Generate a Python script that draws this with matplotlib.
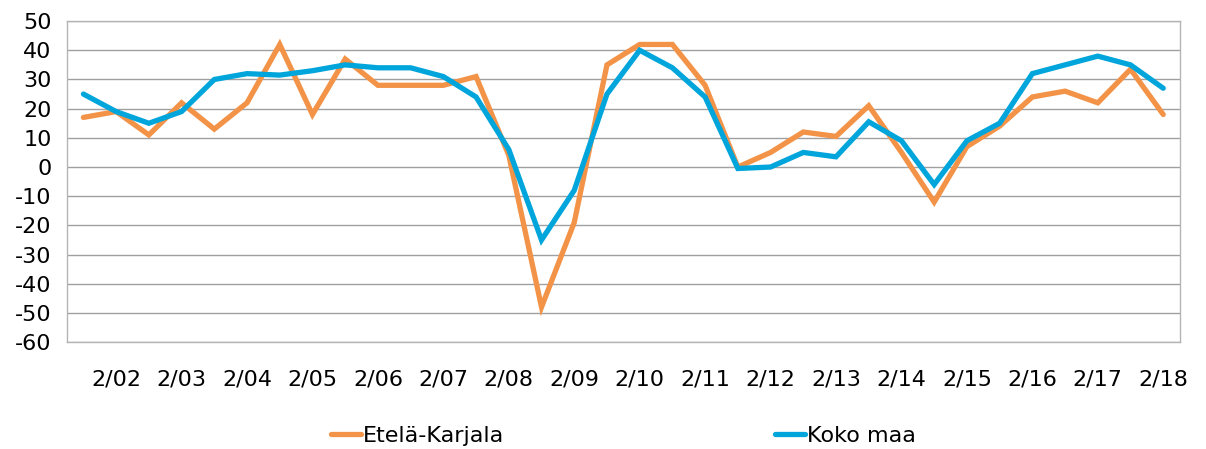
import matplotlib.pyplot as plt

# Survey periods (twice a year), labels shown only for the February ones
periods = ['8/01', '2/02', '8/02', '2/03', '8/03', '2/04', '8/04', '2/05', '8/05',
           '2/06', '8/06', '2/07', '8/07', '2/08', '8/08', '2/09', '8/09', '2/10',
           '8/10', '2/11', '8/11', '2/12', '8/12', '2/13', '8/13', '2/14', '8/14',
           '2/15', '8/15', '2/16', '8/16', '2/17', '8/17', '2/18']

etela_karjala = [17, 19, 11, 22, 13, 22, 42, 18, 37, 28, 28, 28, 31, 4, -48, -19,
                 35, 42, 42, 28, 0, 5, 12, 10.5, 21, 5, -12, 7, 14, 24, 26, 22, 33.5, 18]
koko_maa = [25, 19, 15, 19, 30, 32, 31.5, 33, 35, 34, 34, 31, 24, 6, -25, -8,
            25, 40, 34, 24, -0.5, 0, 5, 3.5, 15.5, 9, -6, 9, 15, 32, 35, 38, 35, 27]

x = list(range(len(periods)))

fig = plt.figure(figsize=(12.06, 4.49), dpi=100)
ax = fig.add_axes([0.0556, 0.238, 0.9225, 0.715])

ax.plot(x, etela_karjala, color='#F39348', lw=3.8, label='Etelä-Karjala',
        solid_joinstyle='miter', solid_capstyle='round')
ax.plot(x, koko_maa, color='#00A5DB', lw=3.8, label='Koko maa',
        solid_joinstyle='miter', solid_capstyle='round')

ax.set_xlim(-0.5, len(periods) - 0.5)
ax.set_ylim(-60, 50)
ax.set_yticks(range(-60, 51, 10))
ax.set_yticklabels([str(v) for v in range(-60, 51, 10)], fontsize=16)

tick_idx = [i for i, p in enumerate(periods) if p.startswith('2/')]
ax.set_xticks(tick_idx)
ax.set_xticklabels([periods[i] for i in tick_idx], fontsize=16)
ax.tick_params(axis='both', length=0)
ax.tick_params(axis='x', pad=20)
ax.tick_params(axis='y', pad=11)

ax.grid(axis='y', color='#a0a0a0', lw=1)
ax.set_axisbelow(True)
for s in ax.spines.values():
    s.set_color('#b5b5b5')
    s.set_linewidth(1)

fig.legend(loc='center', bbox_to_anchor=(0.517, 0.03), ncol=2, frameon=False,
           fontsize=16, handlelength=1.35, handletextpad=0.1, columnspacing=12.2)

fig.savefig('out.png', dpi=100)
